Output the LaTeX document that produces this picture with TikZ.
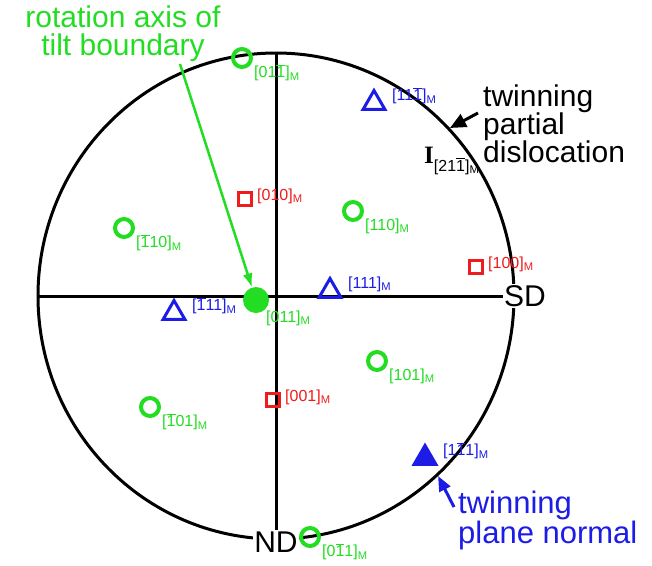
\documentclass[tikz,border=0pt]{standalone}
\usepackage{fontspec}
\setmainfont{Liberation Sans}
\newfontfamily\seriffont{Liberation Serif}
\usetikzlibrary{arrows.meta,positioning,shapes.geometric}
\definecolor{pgreen}{HTML}{22DD22}
\definecolor{pred}{HTML}{EE1C1C}
\definecolor{pblue}{HTML}{1C1CE6}
\newcommand{\ob}[1]{$\overline{\mbox{#1}}$}
\newcommand{\mil}[1]{[#1]\textsubscript{M}}
\tikzset{pole/.style={circle,draw=pgreen,line width=4pt,minimum size=18pt,inner sep=0pt},cube/.style={draw=pred,line width=3pt,minimum size=13pt,inner sep=0pt},tri/.style={regular polygon,regular polygon sides=3,draw=pblue,line width=3pt,minimum size=25pt,inner sep=0pt},lab/.style={anchor=west,inner sep=0pt,font=\fontsize{16}{18}\selectfont},big/.style={font=\fontsize{30}{28}\selectfont,inner sep=0pt},axis/.style={draw=black,line width=3pt}}

\begin{document}
\begin{tikzpicture}[x=1pt,y=-1pt]
\useasboundingbox (0,0) rectangle (652,565);
\node[axis,ellipse,minimum width=476pt,minimum height=486pt,inner sep=0pt] (net) at (276,296) {};
\node[big,fill=white,inner sep=1pt] (sd) at (525,296) {SD};
\node[big,fill=white,inner sep=1pt] (nd) at (276,542) {ND};
\draw[axis] (net.north)--(nd);\draw[axis] (net.west)--(sd);
% poles
\foreach \n/\x/\y/\lab in {a/242/58/{01\ob{1}},b/353/211/{110},c/124/228/{\ob{1}10},d/377/361/{101},e/150/407/{\ob{1}01},f/310/537/{0\ob{1}1}}{\node[pole] (g\n) at (\x,\y) {};\node[lab,text=pgreen] (gl\n) at (\x+12,\y+15) {\mil{\lab}};}
\foreach \n/\x/\y/\lab in {a/245/199/{010},b/476/267/{100},c/273/400/{001}}{\node[cube] (r\n) at (\x,\y) {};\node[lab,text=pred] (rl\n) at (\x+12,\y-3) {\mil{\lab}};}
\foreach \n/\x/\y/\lab in {a/374/103/{11\ob{1}},b/330/291/{111},c/174/313/{\ob{1}11}}{\node[tri] (t\n) at (\x,\y) {};\node[lab,text=pblue] (tl\n) at (\x+18,\y-7) {\mil{\lab}};}
\node[tri,fill=pblue] (tn) at (425,458) {};
\node[lab,text=pblue] (tln) at (443,451) {\mil{1\ob{1}1}};
\node[circle,fill=pgreen,minimum size=26pt,inner sep=0pt] (g0) at (256,300) {};
\node[lab,text=pgreen] (gl0) at (266,318) {\mil{011}};
\node[anchor=base west,inner sep=0pt] (burg) at (424,163) {{\seriffont\bfseries\fontsize{25}{25}\selectfont I}\raisebox{-8pt}{\fontsize{16}{18}\selectfont\mil{21\ob{1}}}};
% captions
\node[big,text=pgreen,align=center] (rotaxis) at (123,34) {rotation axis of\\tilt boundary};
\node[big,anchor=west,align=left] (disl) at (483,124) {twinning\\partial\\dislocation};
\node[big,text=pblue,anchor=west,align=left,font=\fontsize{31}{30}\selectfont] (plane) at (458,520) {twinning\\plane normal};
\coordinate (gtail) at (180,64);\coordinate (dtail) at (478,113);\coordinate (btail) at (454,507);
\draw[draw=pgreen,line width=2.5pt,-{Latex[length=14pt,width=10pt]}] (gtail)--(g0);
\draw[line width=3pt,-{Triangle[length=16pt,width=14pt]}] (dtail)--(net.44);
\draw[draw=pblue,line width=3pt,-{Triangle[length=15pt,width=12pt]}] (btail)--(net.-48);
\end{tikzpicture}
\end{document}
